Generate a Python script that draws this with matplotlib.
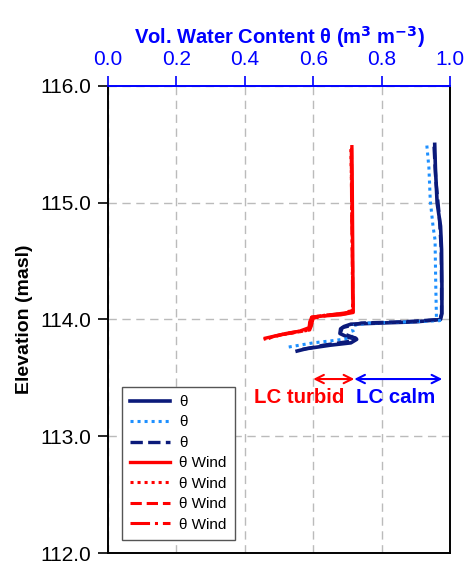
import numpy as np
import matplotlib
matplotlib.use('Agg')
import matplotlib.pyplot as plt

plt.rcParams['font.family'] = ['Liberation Sans', 'DejaVu Sans']

# profiles: volumetric water content vs elevation
elev_calm1 = [115.50, 115.30, 115.00, 114.80, 114.60, 114.30, 114.05, 114.00, 113.98, 113.97,
              113.96, 113.94, 113.92, 113.88, 113.85, 113.83, 113.80, 113.78, 113.75, 113.73]
theta_calm1 = [0.955, 0.957, 0.962, 0.972, 0.975, 0.976, 0.976, 0.972, 0.90, 0.80,
               0.71, 0.69, 0.68, 0.678, 0.70, 0.727, 0.71, 0.65, 0.58, 0.553]

elev_calm2 = [115.49, 115.30, 115.02, 114.80, 114.68, 114.30, 114.02, 113.99, 113.98, 113.97,
              113.95, 113.91, 113.87, 113.84, 113.82, 113.80, 113.78, 113.76]
theta_calm2 = [0.932, 0.938, 0.942, 0.950, 0.956, 0.958, 0.960, 0.970, 0.88, 0.76,
               0.72, 0.715, 0.72, 0.71, 0.66, 0.60, 0.56, 0.52]

elev_calm3 = [115.48, 115.20, 114.90, 114.60, 114.30, 114.05, 114.00, 113.98, 113.97,
              113.93, 113.89, 113.86, 113.84, 113.81, 113.78, 113.75, 113.74]
theta_calm3 = [0.953, 0.958, 0.968, 0.974, 0.975, 0.975, 0.970, 0.86, 0.74,
               0.685, 0.68, 0.705, 0.725, 0.70, 0.63, 0.58, 0.56]

elev_wind1 = [115.48, 115.20, 114.80, 114.40, 114.10, 114.06, 114.04, 114.03, 114.02,
              113.98, 113.93, 113.90, 113.88, 113.86, 113.84]
theta_wind1 = [0.713, 0.714, 0.715, 0.716, 0.717, 0.717, 0.68, 0.63, 0.596,
               0.59, 0.588, 0.56, 0.52, 0.49, 0.46]

elev_wind2 = [115.46, 115.10, 114.70, 114.30, 114.08, 114.05, 114.04, 114.02,
              113.96, 113.91, 113.89, 113.87, 113.85, 113.83]
theta_wind2 = [0.710, 0.712, 0.714, 0.715, 0.716, 0.70, 0.64, 0.60,
               0.595, 0.59, 0.55, 0.51, 0.48, 0.455]

elev_wind3 = [115.47, 115.00, 114.50, 114.08, 114.05, 114.04, 114.02,
              113.97, 113.92, 113.90, 113.88, 113.86, 113.84]
theta_wind3 = [0.712, 0.713, 0.715, 0.716, 0.69, 0.64, 0.595,
               0.59, 0.588, 0.56, 0.52, 0.49, 0.47]

elev_wind4 = [115.45, 115.00, 114.50, 114.09, 114.06, 114.04, 114.01,
              113.95, 113.91, 113.89, 113.87, 113.85, 113.83]
theta_wind4 = [0.711, 0.712, 0.714, 0.715, 0.70, 0.65, 0.60,
               0.595, 0.59, 0.55, 0.51, 0.48, 0.465]

arrow_elev = 113.49
turbid_range = [0.60, 0.72]
calm_range = [0.72, 0.977]

navy = '#0b1a7a'
sky = '#1e90ff'
red = '#ff0000'
blue = '#0000ff'

fig = plt.figure(figsize=(4.65, 5.62), dpi=100)
ax = fig.add_axes([0.232, 0.016, 0.736, 0.831])

ax.plot(theta_calm1, elev_calm1, color=navy, lw=2.6, ls='-', label='θ')
ax.plot(theta_calm2, elev_calm2, color=sky, lw=2.2, ls=(0, (1, 1.3)), label='θ')
ax.plot(theta_calm3, elev_calm3, color=navy, lw=2.4, ls='--', label='θ')
ax.plot(theta_wind1, elev_wind1, color=red, lw=2.4, ls='-', label='θ Wind')
ax.plot(theta_wind2, elev_wind2, color=red, lw=2.2, ls=(0, (1, 1.3)), label='θ Wind')
ax.plot(theta_wind3, elev_wind3, color=red, lw=2.2, ls='--', label='θ Wind')
ax.plot(theta_wind4, elev_wind4, color=red, lw=2.2, ls='-.', label='θ Wind')

ax.annotate('', xy=(turbid_range[0], arrow_elev), xytext=(turbid_range[1], arrow_elev),
            arrowprops=dict(arrowstyle='<->', color=red, lw=1.5, mutation_scale=15,
                            shrinkA=0, shrinkB=0))
ax.annotate('', xy=(calm_range[0], arrow_elev), xytext=(calm_range[1], arrow_elev),
            arrowprops=dict(arrowstyle='<->', color=blue, lw=1.5, mutation_scale=15,
                            shrinkA=0, shrinkB=0))
ax.text(0.56, 113.33, 'LC turbid', color=red, fontsize=14.7, fontweight='bold', ha='center', va='center')
ax.text(0.84, 113.33, 'LC calm', color=blue, fontsize=14.7, fontweight='bold', ha='center', va='center')

ax.set_xlim(0, 1.0)
ax.set_ylim(112, 116)
ax.set_xticks(np.arange(0, 1.01, 0.2))
ax.set_yticks(np.arange(112, 116.01, 1))
ax.xaxis.set_major_formatter(matplotlib.ticker.FormatStrFormatter('%.1f'))
ax.yaxis.set_major_formatter(matplotlib.ticker.FormatStrFormatter('%.1f'))

ax.xaxis.tick_top()
ax.xaxis.set_label_position('top')
ax.set_xlabel('Vol. Water Content θ (m$^{\\mathbf{3}}$ m$^{\\mathbf{-3}}$)', color=blue,
              fontsize=14.5, fontweight='bold', labelpad=5)
ax.set_ylabel('Elevation (masl)', fontsize=14, fontweight='bold', labelpad=5)

ax.tick_params(axis='x', colors=blue, labelsize=15, length=7, width=1.2, direction='out', pad=5)
ax.tick_params(axis='y', colors='black', labelsize=15, length=7, width=1.2, direction='out', pad=5)
for s in ax.spines.values():
    s.set_linewidth(1.4)
ax.spines['top'].set_color(blue)

ax.grid(True, color='#bbbbbb', ls=(0, (6, 4)), lw=1.0)
ax.set_axisbelow(True)

leg = ax.legend(loc='lower left', bbox_to_anchor=(0.041, 0.028), borderaxespad=0, fontsize=11,
                handlelength=2.6, frameon=True, fancybox=False, edgecolor='#555555', framealpha=1,
                labelspacing=0.42, borderpad=0.55, handletextpad=0.6)
leg.get_frame().set_linewidth(1.0)

fig.savefig('out.png', dpi=100)
